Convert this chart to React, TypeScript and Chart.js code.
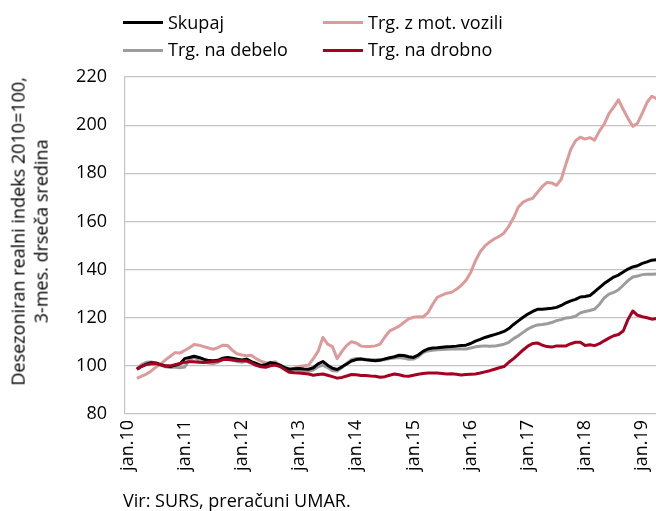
import React, { useEffect, useRef } from 'react';
import { Chart, registerables } from 'chart.js';

Chart.register(...registerables);

const MONTHS = ['jan', 'feb', 'mar', 'apr', 'maj', 'jun', 'jul', 'avg', 'sep', 'okt', 'nov', 'dec'];
const YEARS = ['10', '11', '12', '13', '14', '15', '16', '17', '18', '19'];
const MONTHS_IN_LAST_YEAR = 4; // jan.19 - apr.19

const CATEGORIES: string[] = [];
YEARS.forEach((y, yi) => {
  const n = yi === YEARS.length - 1 ? MONTHS_IN_LAST_YEAR : 12;
  for (let m = 0; m < n; m++) CATEGORIES.push(MONTHS[m] + '.' + y);
});

const SKUPAJ = [
  null, null, 98.6, 99.8, 100.7, 101.3, 101.2, 100.5, 100.0, 99.7, 100.2, 100.8,
  103.0, 103.5, 104.0, 103.5, 102.8, 102.2, 102.1, 102.3, 103.2, 103.5, 103.2, 102.8,
  102.4, 102.8, 101.8, 101.0, 100.2, 100.5, 101.3, 101.0, 100.3, 99.3, 98.6, 98.8,
  98.9, 98.7, 98.6, 99.2, 100.8, 101.8, 100.3, 99.0, 98.5, 99.6, 100.8, 102.0,
  102.6, 102.8, 102.5, 102.3, 102.1, 102.3, 102.9, 103.4, 103.8, 104.4, 104.3, 103.8,
  103.5, 104.5, 106.0, 107.0, 107.4, 107.5, 107.7, 107.9, 108.0, 108.2, 108.5, 108.6,
  109.3, 110.3, 111.0, 111.8, 112.4, 113.0, 113.6, 114.3, 115.5, 117.2, 118.7, 120.2,
  121.5, 122.6, 123.5, 123.5, 123.7, 123.9, 124.3, 125.1, 126.2, 127.0, 127.6, 128.6,
  128.8, 129.2, 130.8, 132.5, 134.2, 135.6, 136.9, 137.7, 139.0, 140.2, 141.1, 141.6,
  142.6, 143.2, 143.9, 144.1,
];

const MOT_VOZILA = [
  null, null, 94.8, 95.7, 96.6, 97.9, 99.5, 100.7, 102.5, 104.0, 105.5, 105.3,
  106.4, 107.5, 108.9, 108.6, 108.0, 107.4, 106.9, 107.6, 108.6, 108.5, 106.5, 105.0,
  104.5, 104.2, 104.4, 103.0, 102.0, 101.3, 101.2, 101.7, 100.3, 99.2, 98.6, 99.0,
  99.7, 100.0, 100.3, 103.0, 106.0, 111.8, 109.0, 108.0, 103.0, 106.0, 108.5, 110.0,
  109.5, 108.2, 108.0, 108.0, 108.3, 109.0, 112.0, 114.5, 115.5, 116.5, 118.0, 119.5,
  120.2, 120.4, 120.3, 122.0, 125.5, 128.5, 129.4, 130.2, 130.6, 131.8, 133.4, 135.5,
  138.8, 143.6, 147.4, 149.8, 151.5, 152.8, 153.8, 155.2, 158.0, 161.5, 166.0, 168.0,
  169.0, 169.6, 172.0, 174.5, 176.2, 176.0, 175.0, 177.5, 184.0, 190.0, 193.5, 195.0,
  194.2, 194.8, 193.8, 197.5, 200.4, 204.8, 207.5, 210.5, 206.5, 202.8, 199.5, 200.8,
  205.0, 209.5, 212.0, 211.0,
];

const DEBELO = [
  null, null, 98.8, 100.5, 101.5, 101.6, 101.0, 100.2, 99.6, 99.3, 99.5, 99.2,
  99.5, 102.5, 103.5, 102.5, 101.8, 101.2, 101.0, 101.5, 102.5, 103.0, 102.5, 101.8,
  101.5, 102.0, 101.0, 100.3, 100.0, 100.6, 101.5, 101.0, 100.0, 99.0, 98.2, 98.3,
  98.2, 97.9, 97.8, 98.3, 99.6, 100.3, 99.3, 98.0, 97.9, 99.3, 101.0, 102.6,
  103.1, 103.1, 102.7, 102.4, 102.5, 102.6, 102.5, 103.0, 103.3, 103.5, 103.2, 102.7,
  102.8, 103.8, 105.5, 106.2, 106.5, 106.7, 106.8, 106.9, 107.0, 107.0, 107.0, 107.0,
  107.4, 107.9, 108.1, 108.3, 108.1, 108.2, 108.6, 109.0, 109.8, 111.3, 112.5, 113.9,
  115.3, 116.3, 117.0, 117.2, 117.5, 118.0, 118.8, 119.2, 119.9, 120.1, 120.6, 122.0,
  122.6, 123.0, 123.6, 125.5, 128.2, 129.8, 130.5, 131.6, 133.5, 135.4, 136.9, 137.3,
  137.9, 138.1, 138.1, 138.2,
];

const DROBNO = [
  null, null, 98.6, 99.8, 100.6, 100.9, 101.0, 100.4, 99.8, 100.0, 100.5, 101.0,
  101.5, 101.7, 101.7, 101.5, 101.4, 101.6, 101.8, 102.0, 102.6, 102.6, 102.4, 102.2,
  102.1, 102.1, 101.3, 100.2, 99.6, 99.4, 100.0, 100.3, 99.7, 98.5, 97.3, 97.1,
  97.0, 96.8, 96.6, 96.1, 96.4, 96.6, 96.1, 95.5, 94.9, 95.2, 95.8, 96.4,
  96.3, 96.0, 96.0, 95.8, 95.7, 95.3, 95.5, 96.1, 96.6, 96.3, 95.8, 95.7,
  96.1, 96.5, 96.8, 97.0, 97.0, 97.0, 96.8, 96.6, 96.7, 96.5, 96.2, 96.4,
  96.5, 96.6, 97.0, 97.5, 98.0, 98.6, 99.2, 99.7, 101.5, 103.0, 104.8, 106.6,
  108.2, 109.3, 109.5, 108.6, 108.0, 107.8, 108.3, 108.3, 108.3, 109.2, 109.8, 109.8,
  108.5, 108.8, 108.4, 109.2, 110.4, 111.5, 112.5, 113.0, 114.5, 119.3, 122.8, 121.0,
  120.4, 120.0, 119.4, 119.7,
];

const Y_MIN = 80;
const Y_MAX = 220;
const Y_STEP = 20;

const LEGEND = [
  { label: 'Skupaj', color: '#000000', col: 0, row: 0 },
  { label: 'Trg. z mot. vozili', color: '#dc9a9a', col: 1, row: 0 },
  { label: 'Trg. na debelo', color: '#9c9c9c', col: 0, row: 1 },
  { label: 'Trg. na drobno', color: '#a50021', col: 1, row: 1 },
];

const Y_TITLE = ['Desezoniran realni indeks 2010=100,', '3-mes. drseča sredina'];
const SOURCE = 'Vir: SURS, preračuni UMAR.';

const FONT = '"Open Sans", sans-serif';
const GRID = '#c4c4c4';

export default function App() {
  const ref = useRef<HTMLCanvasElement | null>(null);

  useEffect(() => {
    if (!ref.current) return;
    const mk = (label: string, data: (number | null)[], color: string) => ({
      label,
      data,
      borderColor: color,
      backgroundColor: color,
      borderWidth: 3,
      pointRadius: 0,
      tension: 0,
      spanGaps: false,
      borderJoinStyle: 'round' as const,
      borderCapStyle: 'butt' as const,
    });
    const chart = new Chart(ref.current, {
      type: 'line',
      data: {
        labels: CATEGORIES,
        datasets: [
          mk('Trg. na drobno', DROBNO, '#a50021'),
          mk('Skupaj', SKUPAJ, '#000000'),
          mk('Trg. na debelo', DEBELO, '#9c9c9c'),
          mk('Trg. z mot. vozili', MOT_VOZILA, '#dc9a9a'),
        ],
      },
      options: {
        animation: false,
        responsive: false,
        devicePixelRatio: 1,
        layout: { padding: { top: 77, left: 0, right: 0, bottom: 0 } },
        plugins: { legend: { display: false }, tooltip: { enabled: false }, title: { display: false } },
        scales: {
          x: {
            type: 'category',
            offset: true,
            grid: { display: false, drawTicks: false },
            border: { display: false },
            ticks: {
              autoSkip: false,
              maxRotation: 90,
              minRotation: 90,
              padding: 6,
              color: '#000',
              font: { family: FONT, size: 18 },
              callback: (_v: any, i: number) => (i % 12 === 0 ? CATEGORIES[i] : ''),
            },
            afterFit: (s: any) => {
              s.height = 97;
              s.paddingLeft = 0;
              s.paddingRight = 0;
            },
          },
          y: {
            min: Y_MIN,
            max: Y_MAX,
            grid: { color: GRID, lineWidth: 1.2, drawTicks: false },
            border: { display: true, color: GRID, width: 1.2 },
            ticks: {
              stepSize: Y_STEP,
              padding: 18,
              color: '#000',
              font: { family: FONT, size: 18 },
            },
            afterFit: (s: any) => {
              s.width = 125;
              s.paddingTop = 0;
              s.paddingBottom = 0;
            },
          },
        },
      },
    });
    return () => chart.destroy();
  }, []);

  const textStyle: React.CSSProperties = { fontFamily: FONT, fontSize: 18, color: '#000', whiteSpace: 'nowrap' };

  return (
    <div style={{ position: 'fixed', left: 0, top: 0, width: 656, height: 511, overflow: 'hidden', background: '#fff' }}>
      <canvas ref={ref} width={659} height={511} style={{ position: 'absolute', left: 0, top: 0, width: 659, height: 511 }} />
      {LEGEND.map((l) => {
        const lx = l.col === 0 ? 123 : 323;
        const cy = l.row === 0 ? 22.5 : 50;
        return (
          <React.Fragment key={l.label}>
            <div style={{ position: 'absolute', left: lx, top: cy - 1.5, width: 40, height: 3, background: l.color }} />
            <div style={{ ...textStyle, position: 'absolute', left: lx + 45, top: cy - 12.6, lineHeight: '24px' }}>{l.label}</div>
          </React.Fragment>
        );
      })}
      <div
        style={{
          ...textStyle,
          position: 'absolute',
          left: 30 - 200,
          top: 231 - 23.4,
          width: 400,
          height: 46.8,
          lineHeight: '23.4px',
          textAlign: 'center',
          transform: 'rotate(-90deg)',
          transformOrigin: '50% 50%',
        }}
      >
        {Y_TITLE.map((t) => (
          <div key={t}>{t}</div>
        ))}
      </div>
      <div style={{ ...textStyle, position: 'absolute', left: 123, top: 488, lineHeight: '24px' }}>{SOURCE}</div>
    </div>
  );
}
